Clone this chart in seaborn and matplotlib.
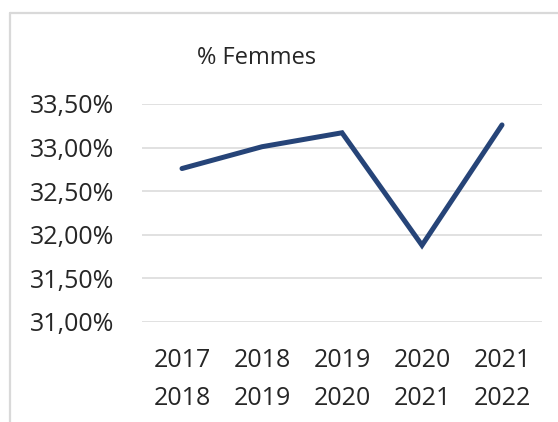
import matplotlib
matplotlib.use("Agg")
import matplotlib.pyplot as plt
import seaborn as sns
import pandas as pd
from matplotlib.lines import Line2D
from matplotlib.ticker import FuncFormatter

periods = ["2017\n2018", "2018\n2019", "2019\n2020", "2020\n2021", "2021\n2022"]
femmes_pct = [32.76, 33.01, 33.17, 31.88, 33.26]
y_ticks = [31.0, 31.5, 32.0, 32.5, 33.0, 33.5]
title = "% Femmes"

W, H = 558, 422
sns.set_theme(style="white")
plt.rcParams["font.family"] = ["Open Sans", "DejaVu Sans"]

fig = plt.figure(figsize=(W / 100, H / 100), dpi=100)
ax = fig.add_axes([142 / W, (H - 322) / H, 400 / W, 218 / H])

df = pd.DataFrame({"periode": periods, "pct": femmes_pct})
sns.lineplot(data=df, x="periode", y="pct", ax=ax, sort=False,
             color="#264478", linewidth=3.6, solid_capstyle="round",
             solid_joinstyle="miter")

ax.set_xlim(-0.5, len(periods) - 0.5)
ax.set_ylim(31.0, 33.5)
ax.set_yticks(y_ticks)
ax.yaxis.set_major_formatter(FuncFormatter(lambda v, p: f"{v:.2f}%".replace(".", ",")))
ax.grid(axis="y", color="#D9D9D9", linewidth=1.1)
ax.set_axisbelow(True)
for s in ax.spines.values():
    s.set_visible(False)
ax.set_xlabel("")
ax.set_ylabel("")
ax.tick_params(axis="y", length=0, pad=20, labelsize=18, labelcolor="#262626")
ax.tick_params(axis="x", length=0, pad=19, labelsize=18, labelcolor="#262626")
for lbl in ax.get_xticklabels():
    lbl.set_linespacing(1.65)

fig.text(257 / W, (H - 58) / H, title, ha="center", va="center",
         fontsize=17, color="#262626")

# chart frame (partially cropped)
fig.add_artist(Line2D([10 / W, 10 / W], [0, (H - 13) / H], color="#D9D9D9", linewidth=1.6,
                      transform=fig.transFigure))
fig.add_artist(Line2D([10 / W, 1], [(H - 13) / H, (H - 13) / H], color="#D9D9D9", linewidth=1.6,
                      transform=fig.transFigure))

fig.savefig("out.png", dpi=100)
